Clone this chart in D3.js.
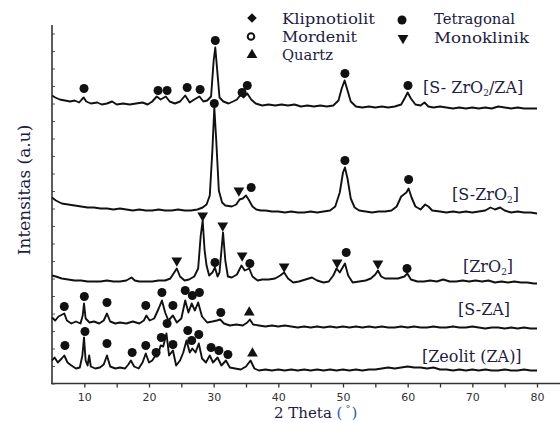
<!DOCTYPE html>
<html><head><meta charset="utf-8">
<script src="https://cdn.jsdelivr.net/npm/d3@7"></script>
<style>body{margin:0;background:#fff}</style>
</head><body><svg id="c" width="560" height="423"></svg>
<script>
// ---- tick labels ----
const xTicks=[10,20,30,40,50,60,70,80];
const xMinorTicks=[15,25,35,45,55,65,75];

// ---- series (2θ, intensity a.u., stacked) ----
const sZrO2ZA=[[5.0,288],[5.5,286],[6.2,284],[7.0,283],[7.8,282],[8.5,283],[9.2,281],[9.6,284],[9.9,286],[10.3,282],[11.0,280],[12.0,281],[12.7,279],[13.5,280],[14.3,282],[15.0,279],[16.0,280],[17.0,279],[18.0,280],[19.0,281],[19.8,279],[20.5,282],[21.2,287],[21.8,284],[22.6,287],[23.2,282],[24.0,280],[24.8,282],[25.6,288],[26.3,281],[27.0,284],[27.8,287],[28.4,282],[29.0,283],[29.6,287],[30.0,323],[30.25,336],[30.55,313],[30.9,286],[31.5,282],[32.3,280],[33.0,282],[33.6,284],[34.2,289],[34.6,286],[35.2,290],[35.8,284],[36.5,280],[37.5,278],[38.5,279],[39.5,278],[40.5,279],[41.5,278],[42.5,279],[43.5,277],[44.5,278],[45.5,277],[46.5,278],[47.5,277],[48.5,278],[49.3,283],[49.8,295],[50.25,303],[50.7,293],[51.2,282],[52.0,277],[53.0,276],[54.0,277],[55.0,276],[56.0,277],[57.0,276],[58.0,277],[59.0,279],[59.6,286],[60.0,291],[60.5,285],[61.2,279],[62.0,278],[62.6,281],[63.2,277],[64.0,276],[65.0,277],[66.0,276],[67.0,275],[68.0,276],[69.0,275],[70.0,276],[71.0,275],[72.0,276],[73.0,275],[74.0,277],[75.0,276],[76.0,275],[77.0,276],[78.0,275],[79.0,275],[80.0,275]];
const sZrO2=[[5.0,186],[5.6,183],[6.5,180],[7.5,179],[8.5,178],[9.5,177],[10.5,176],[11.5,176],[12.5,175],[13.5,175],[14.5,174],[15.5,175],[16.5,174],[17.5,173],[18.5,174],[19.5,173],[20.5,173],[21.5,174],[22.5,173],[23.5,173],[24.5,174],[25.5,173],[26.5,173],[27.5,174],[28.3,176],[28.9,179],[29.4,188],[29.8,233],[30.1,276],[30.4,243],[30.8,193],[31.3,181],[31.8,178],[32.8,177],[33.5,179],[34.0,184],[34.5,185],[35.0,188],[35.4,184],[36.0,177],[36.6,174],[37.3,173],[38.0,173],[39.0,172],[40.0,172],[41.0,171],[42.0,172],[43.0,171],[44.0,171],[45.0,172],[46.0,171],[47.0,172],[48.0,173],[48.8,177],[49.5,191],[50.0,211],[50.3,216],[50.7,205],[51.2,185],[51.8,176],[52.5,173],[53.5,172],[54.5,171],[55.5,172],[56.5,172],[57.5,173],[58.3,177],[59.0,187],[59.4,189],[59.8,191],[60.15,195],[60.6,186],[61.2,177],[62.0,174],[62.7,179],[63.2,177],[63.8,173],[65.0,172],[66.0,171],[67.0,172],[68.0,171],[69.0,172],[70.0,171],[71.0,172],[72.0,173],[72.8,176],[73.5,174],[74.3,176],[75.0,173],[76.0,171],[77.0,172],[78.0,171],[79.0,171],[80.0,170]];
const zrO2=[[5.0,108],[5.6,107],[6.5,105],[7.5,104],[8.5,103],[9.5,103],[10.5,102],[11.5,102],[12.5,102],[13.5,103],[14.5,102],[15.5,102],[16.5,103],[17.3,106],[17.8,103],[18.5,102],[19.5,102],[20.5,102],[21.5,103],[22.5,103],[23.3,105],[23.9,111],[24.3,115],[24.8,107],[25.5,103],[26.2,104],[27.0,107],[27.6,115],[28.0,148],[28.3,163],[28.6,133],[28.9,118],[29.3,108],[29.8,111],[30.2,116],[30.6,107],[30.9,111],[31.2,133],[31.45,151],[31.8,123],[32.2,107],[32.8,106],[33.6,109],[34.3,118],[34.8,113],[35.5,115],[36.0,107],[36.8,103],[37.5,104],[38.5,104],[39.5,105],[40.3,108],[40.9,111],[41.5,105],[42.3,101],[43.2,102],[44.2,104],[45.2,106],[46.0,103],[47.0,101],[47.8,102],[48.5,108],[49.0,115],[49.5,111],[50.3,120],[50.8,108],[51.5,101],[52.5,102],[53.5,103],[54.3,105],[55.0,109],[55.4,113],[55.9,107],[56.5,105],[57.5,105],[58.5,105],[59.5,107],[59.95,110],[60.5,104],[61.5,102],[62.5,102],[63.5,103],[64.5,102],[65.5,104],[66.5,102],[67.5,102],[68.5,103],[69.5,102],[70.5,103],[71.5,102],[72.5,103],[73.5,101],[74.5,102],[75.5,101],[76.5,102],[77.5,101],[78.5,101],[79.5,100],[80.0,100]];
const sZA=[[5.0,66],[5.5,63],[6.0,67],[6.6,69],[6.9,70],[7.3,63],[8.0,60],[8.7,62],[9.4,60],[9.75,68],[9.95,80],[10.2,65],[10.8,61],[11.5,62],[12.3,60],[13.0,63],[13.5,70],[14.0,62],[14.8,60],[15.5,61],[16.5,60],[17.5,62],[18.5,60],[19.2,63],[19.6,68],[20.1,63],[20.8,65],[21.5,75],[22.0,83],[22.5,71],[23.0,63],[23.7,68],[24.3,61],[25.0,65],[25.6,83],[26.1,71],[26.6,80],[27.1,73],[27.6,81],[28.2,67],[29.0,61],[29.8,62],[30.5,63],[31.0,64],[31.6,60],[32.5,58],[33.5,59],[34.5,58],[35.2,61],[35.6,64],[36.1,59],[37.0,58],[38.0,57],[39.0,58],[40.0,57],[41,58],[42,57],[43,56],[44,57],[45,56],[46,57],[47,56],[48,57],[49,56],[50,57],[51,56],[52,57],[53,56],[54,57],[55,56],[56,57],[57,56],[58,56],[59,57],[60,56],[61,57],[62,56],[63,56],[64,57],[65,56],[66,56],[67,57],[68,56],[69,56],[70,57],[71,56],[72,55],[73,56],[74,56],[75,55],[76,56],[77,55],[78,56],[79,55],[80,55]];
const zeolit=[[5.0,23],[5.4,26],[5.9,21],[6.5,25],[6.9,28],[7.4,21],[8.0,18],[8.7,15],[9.3,16],[9.7,28],[9.95,46],[10.2,23],[10.5,18],[10.75,28],[11.0,17],[11.7,15],[12.4,16],[13.0,19],[13.5,28],[14.0,17],[14.8,15],[15.5,16],[16.3,15],[16.8,19],[17.2,23],[17.7,17],[18.4,15],[19.0,21],[19.5,30],[20.0,21],[20.5,23],[20.9,27],[21.3,27],[21.8,38],[22.2,37],[22.7,50],[23.1,28],[23.7,33],[24.2,18],[24.8,23],[25.3,31],[25.8,43],[26.3,31],[26.7,35],[27.2,31],[27.7,40],[28.2,25],[28.8,21],[29.4,28],[29.9,21],[30.6,26],[31.2,18],[31.9,23],[32.5,16],[33.3,15],[34.2,14],[35.0,17],[35.7,23],[36.3,15],[37,13],[38,14],[39,13],[40,14],[41,13],[42,14],[43,13],[44,14],[45,13],[46,14],[47,13],[48,14],[49,13],[50,14],[51,13],[52,14],[53,13],[54,14],[55,14],[56,15],[57,16],[58,15],[59,16],[60,17],[61,16],[62,16],[63,15],[64,16],[65,14],[66,14],[67,13],[68,14],[69,13],[70,14],[71,13],[72,14],[73,13],[74,13],[75,14],[76,13],[77,13],[78,14],[79,13],[80,13]];
const seriesList=[sZrO2ZA,sZrO2,zrO2,sZA,zeolit];

// ---- peak markers (2θ, a.u.) ----
const tetragonalPeaks=[[9.95,295],[21.4,293],[22.8,293],[25.9,296],[27.9,294],[30.25,343],[34.4,291],[35.2,298],[50.3,310],[60.05,298],
  [30.1,280],[35.8,196],[50.3,223],[60.15,204],
  [30.2,121],[35.6,120],[50.5,131],[59.9,115],
  [6.9,77],[10.0,87],[13.5,81],[19.5,78],[22.0,91],[23.7,78],[25.6,93],[26.7,88],[27.8,91],[31.1,71],
  [7.0,38],[10.1,52],[13.5,40],[17.4,31],[19.5,38],[21.1,31],[21.9,46],[22.8,60],[23.7,39],[26.0,53],[26.6,43],[27.7,49],[29.6,36],[30.8,33],[32.2,29]];
const monoklinikPeaks=[[33.9,193],[24.3,123],[28.3,168],[31.4,158],[34.4,128],[40.9,117],[49.1,121],[55.4,120]];
const quartzPeaks=[[35.5,71],[36.0,30]];

// ---- labels ----
const legendLeft=["Klipnotiolit","Mordenit","Quartz"];
const legendRight=["Tetragonal","Monoklinik"];
const yTitle="Intensitas (a.u)";

const svg=d3.select("#c");
const x=d3.scaleLinear().domain([5,80]).range([52,537]);
const y=d3.scaleLinear().domain([0,358]).range([383.5,25.5]);
const ink="#111";
const txt="#1c2140";

// x axis
const xAxis=d3.axisBottom(x).tickValues(xTicks.concat(xMinorTicks)).tickSize(4).tickPadding(6)
  .tickFormat(d=>xTicks.includes(d)?d:"");
const gx=svg.append("g").attr("transform","translate(0,383.5)").call(xAxis);
gx.select(".domain").remove();
gx.selectAll("line").attr("stroke","#333").attr("stroke-width",1.3);
gx.selectAll("text").attr("font-family","DejaVu Sans").attr("font-size",11).attr("fill","#333");
svg.append("line").attr("x1",51).attr("x2",560).attr("y1",383.5).attr("y2",383.5).attr("stroke","#333").attr("stroke-width",1.6);

// y axis
const yAxis=d3.axisRight(y).tickValues(d3.range(0,358,17.5)).tickSize(3).tickFormat("");
const gy=svg.append("g").attr("transform","translate(52,0)").call(yAxis);
gy.select(".domain").remove();
gy.selectAll("line").attr("stroke","#555").attr("stroke-width",1);
svg.append("line").attr("x1",52).attr("x2",52).attr("y1",25).attr("y2",384).attr("stroke","#333").attr("stroke-width",1.6);

// traces
const line=d3.line().x(d=>x(d[0])).y(d=>y(d[1])).curve(d3.curveLinear);
svg.selectAll("path.trace").data(seriesList).enter().append("path").attr("class","trace")
  .attr("d",line).attr("fill","none").attr("stroke",ink).attr("stroke-width",1.9).attr("stroke-linejoin","round");

// markers
svg.selectAll("circle.tet").data(tetragonalPeaks).enter().append("circle")
  .attr("cx",d=>x(d[0])).attr("cy",d=>y(d[1])).attr("r",4.5).attr("fill",ink);
const tri=d3.symbol(d3.symbolTriangle,50);
svg.selectAll("path.mono").data(monoklinikPeaks).enter().append("path")
  .attr("d",tri).attr("transform",d=>`translate(${x(d[0])},${y(d[1])}) rotate(180)`).attr("fill",ink);
svg.selectAll("path.qtz").data(quartzPeaks).enter().append("path")
  .attr("d",tri).attr("transform",d=>`translate(${x(d[0])},${y(d[1])})`).attr("fill",ink);

// legend
const lg=svg.append("g");
lg.append("path").attr("d",d3.symbol(d3.symbolSquare,46)).attr("transform","translate(252,18) rotate(45)").attr("fill",ink);
lg.append("circle").attr("cx",251).attr("cy",36.5).attr("r",3.3).attr("fill","none").attr("stroke",ink).attr("stroke-width",2);
lg.append("path").attr("d",tri).attr("transform","translate(252,55)").attr("fill",ink);
lg.append("circle").attr("cx",402).attr("cy",20).attr("r",4.5).attr("fill",ink);
lg.append("path").attr("d",tri).attr("transform","translate(403,38) rotate(180)").attr("fill",ink);
const leftW=[93,75,51], rightW=[81,95];
legendLeft.forEach((t,i)=>lg.append("text").attr("x",282).attr("y",[24,42,60][i]).text(t)
  .attr("font-family","DejaVu Serif").attr("font-size",15).attr("fill",txt)
  .attr("textLength",leftW[i]).attr("lengthAdjust","spacingAndGlyphs"));
legendRight.forEach((t,i)=>lg.append("text").attr("x",434).attr("y",[24,43][i]).text(t)
  .attr("font-family","DejaVu Serif").attr("font-size",15).attr("fill",txt)
  .attr("textLength",rightW[i]).attr("lengthAdjust","spacingAndGlyphs"));

// series labels
function lab(xp,yp,parts){
  const t=svg.append("text").attr("x",xp).attr("y",yp).attr("font-family","DejaVu Serif").attr("font-size",16).attr("fill",txt);
  parts.forEach(p=>{
    if(p.sub){t.append("tspan").attr("font-size",9).attr("dy",3).text(p.t);}
    else{t.append("tspan").attr("dy",p.back?-3:0).text(p.t);}
  });
}
lab(423,93,[{t:"[S- ZrO"},{t:"2",sub:1},{t:"/ZA]",back:1}]);
lab(452,200,[{t:"[S-ZrO"},{t:"2",sub:1},{t:"]",back:1}]);
lab(463,272,[{t:"[ZrO"},{t:"2",sub:1},{t:"]",back:1}]);
lab(458,315,[{t:"[S-ZA]"}]);
lab(422,362,[{t:"[Zeolit (ZA)]"}]);

// axis titles
const xt=svg.append("text").attr("x",274).attr("y",418).attr("font-family","DejaVu Serif").attr("font-size",15).attr("fill",txt);
xt.append("tspan").text("2 Theta ");
xt.append("tspan").attr("fill","#3559a8").text("(");
xt.append("tspan").attr("fill","#3559a8").attr("font-size",10).attr("dx",3).attr("dy",-6).text("°");
xt.append("tspan").attr("fill","#3559a8").attr("dx",1).attr("dy",6).text(")");
svg.append("text").attr("transform","translate(30,190) rotate(-90)").attr("text-anchor","middle")
  .attr("font-family","DejaVu Serif").attr("font-size",17).attr("fill",txt).text(yTitle);
</script></body></html>
